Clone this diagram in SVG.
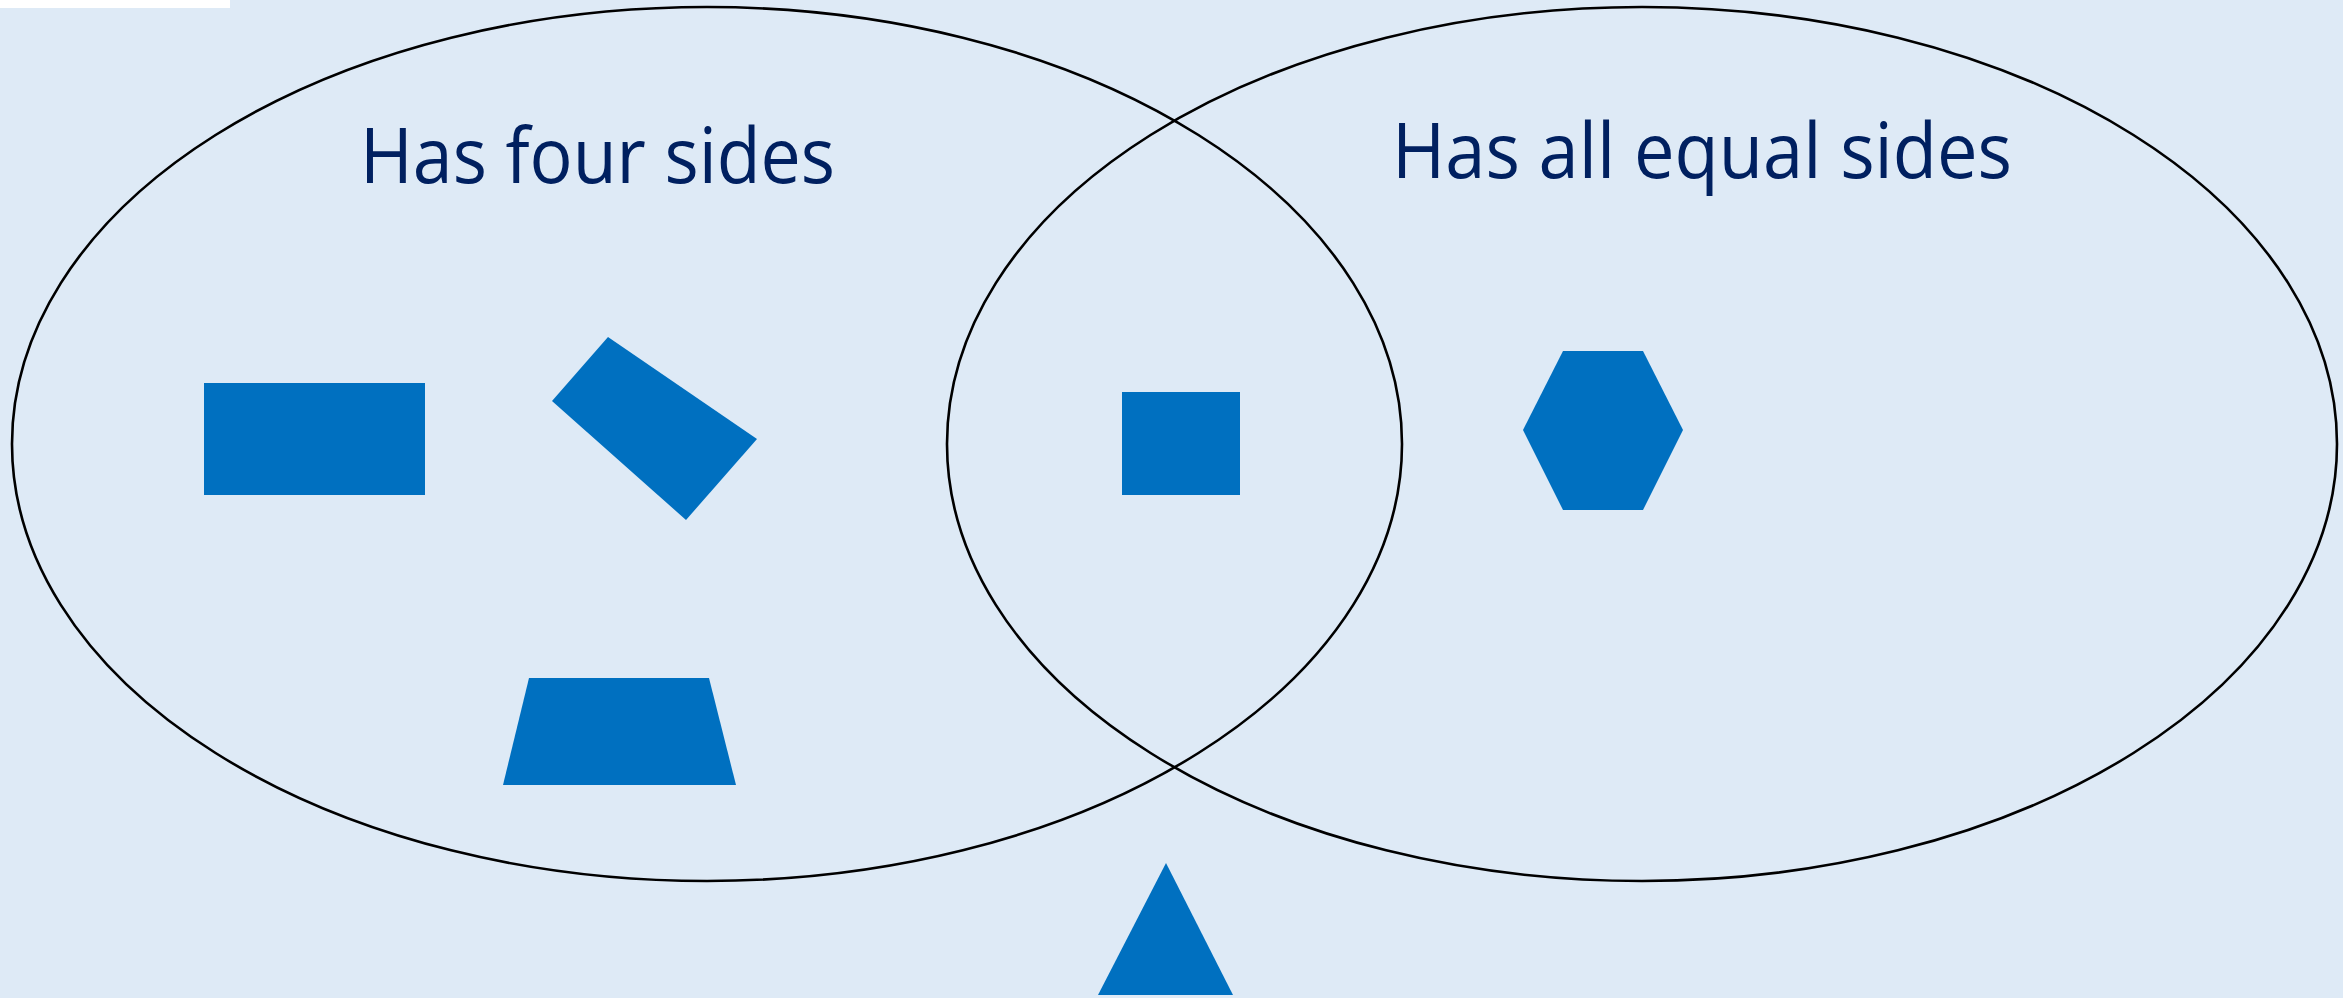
<svg xmlns="http://www.w3.org/2000/svg" width="2343" height="998" viewBox="0 0 2343 998">
<style>
.bg{fill:#DEEAF6}
.set{fill:none;stroke:#000;stroke-width:2.6}
.shape{fill:#0070C0}
.lbl{font-family:"Open Sans","Liberation Sans",sans-serif;font-size:76px;fill:#002060}
</style>
<rect class="bg" x="0" y="0" width="2343" height="998"/>
<rect x="0" y="0" width="230" height="8" fill="#FFFFFF"/>
<g id="set-four-sides">
<ellipse class="set" cx="707" cy="444" rx="695" ry="437"/>
<text class="lbl" x="360" y="183" textLength="475" lengthAdjust="spacingAndGlyphs">Has four sides</text>
</g>
<g id="set-equal-sides">
<ellipse class="set" cx="1642" cy="444" rx="695" ry="437"/>
<text class="lbl" x="1392" y="178" textLength="620" lengthAdjust="spacingAndGlyphs">Has all equal sides</text>
</g>
<g id="rectangle"><rect class="shape" x="204" y="383" width="221" height="112"/></g>
<g id="rotated-rectangle"><polygon class="shape" points="608,337 757,439 686,520 552,401"/></g>
<g id="trapezoid"><polygon class="shape" points="529,678 709,678 736,785 503,785"/></g>
<g id="square"><rect class="shape" x="1122" y="392" width="118" height="103"/></g>
<g id="hexagon"><polygon class="shape" points="1563,351 1643,351 1683,430 1643,510 1563,510 1523,430"/></g>
<g id="triangle"><polygon class="shape" points="1166,863 1233,995 1098,995"/></g>
</svg>
